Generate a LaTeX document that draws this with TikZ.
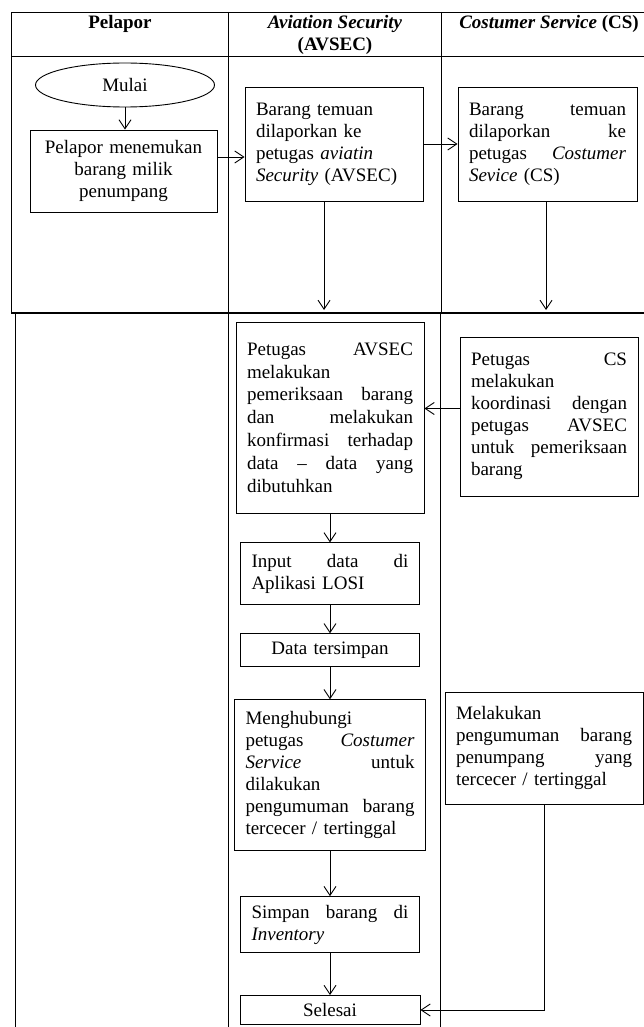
\documentclass[tikz,border=0pt]{standalone}
\usepackage{fontspec}
\setmainfont{Liberation Serif}
\usetikzlibrary{shapes.geometric,arrows.meta,positioning}

\begin{document}
\begin{tikzpicture}[
    x=1pt, y=-1pt,
    every node/.style={font=\fontsize{19}{22}\selectfont},
    box/.style={rectangle, draw, line width=0.9pt, inner xsep=11pt, inner ysep=3pt, align=left},
    startstop/.style={ellipse, draw, line width=0.9pt, minimum width=179pt, minimum height=44pt, inner sep=0pt},
    header/.style={font=\fontsize{19}{22}\selectfont\bfseries, align=center},
    lane/.style={line width=0.9pt},
    arrow/.style={-{Straight Barb[length=9pt,width=12pt]}, line width=0.9pt}
]
\useasboundingbox (0,0) rectangle (644,1027);

% Swimlanes
\draw[lane] (644,12) -- (11,12) -- (11,312) -- (644,312);
\draw[lane] (11,56) -- (644,56);
\draw[lane] (228,12) -- (228,312);
\draw[lane] (441,12) -- (441,312);
\draw[lane] (15,313) -- (15,1027);
\draw[lane] (228,313) -- (228,1027);
\draw[lane] (440,313) -- (440,1027);
\draw[line width=2.2pt] (11,313) -- (644,313);

% Headers
\node[header] (hpelapor) at (120,24) {Pelapor};
\node[header] (havsec) at (335,35) {\textit{Aviation Security}\\(AVSEC)};
\node[header] (hcs) at (549,24) {\textit{Costumer Service} (CS)};

% Pelapor
\node[startstop] (mulai) at (125,85) {Mulai};
\node[box, align=center, text width=165pt, minimum height=82pt] (pelapor) at (123.5,171) {Pelapor menemukan\\barang milik\\penumpang};

% Laporan ke AVSEC dan CS
\node[box, text width=156pt, minimum height=114pt] (avsec1) at (334,144) {Barang temuan\\dilaporkan ke\\petugas \textit{aviatin}\\\textit{Security} (AVSEC)};
\node[box, text width=157pt, minimum height=114pt] (cs1) at (547.5,144) {Barang \hfill temuan\\dilaporkan \hfill ke\\petugas \hfill \textit{Costumer}\\\textit{Sevice} (CS)};

% Pemeriksaan
\node[box, font=\fontsize{19}{22.8}\selectfont, text width=166pt, minimum height=191pt] (avsec2) at (330,417.5) {Petugas \hfill AVSEC\\melakukan\\pemeriksaan \hfill barang\\dan \hfill melakukan\\konfirmasi \hfill terhadap\\data \hfill -- \hfill data \hfill yang\\dibutuhkan};
\node[box, text width=156pt, minimum height=159pt] (cs2) at (549,416.5) {Petugas \hfill CS\\melakukan\\koordinasi \hfill dengan\\petugas \hfill AVSEC\\untuk \hfill pemeriksaan\\barang};

% Alur AVSEC
\node[box, text width=157pt, minimum height=62pt, below=29pt of avsec2] (input) {Input \hfill data \hfill di\\Aplikasi LOSI};
\node[box, align=center, text width=157pt, minimum height=33pt, below=28pt of input] (data) {Data tersimpan};
\node[box, text width=169pt, minimum height=151pt, below=32pt of data] (hubungi) {Menghubungi\\petugas \hfill \textit{Costumer}\\\textit{Service} \hfill untuk\\dilakukan\\pengumuman \hfill barang\\tercecer / tertinggal};
\node[box, text width=157pt, minimum height=56pt, below=45pt of hubungi] (simpan) {Simpan \hfill barang \hfill di\\\textit{Inventory}};
\node[box, align=center, text width=158pt, minimum height=29pt, below=42pt of simpan] (selesai) {Selesai};

% Pengumuman CS
\node[box, text width=176pt, minimum height=112pt] (cs3) at (544,748) {Melakukan\\pengumuman \hfill barang\\penumpang \hfill yang\\tercecer / tertinggal};

% Arrows
\coordinate (avsecout) at (324,310);
\coordinate (csout) at (546,310);
\draw[arrow] (mulai.south) -- (mulai.south |- pelapor.north);
\draw[arrow] ([yshift=14pt]pelapor.east) -- ([yshift=14pt]pelapor.east -| avsec1.west);
\draw[arrow] (avsec1) -- (cs1);
\draw[arrow] (avsec1.south -| avsecout) -- (avsecout);
\draw[arrow] (cs1.south -| csout) -- (csout);
\draw[arrow] ([yshift=8pt]cs2.west) -- ([yshift=8pt]cs2.west -| avsec2.east);
\draw[arrow] (avsec2) -- (input);
\draw[arrow] (input) -- (data);
\draw[arrow] (data) -- (hubungi);
\draw[arrow] (hubungi) -- (simpan);
\draw[arrow] (simpan) -- (selesai);
\draw[arrow] (cs3.south) |- (selesai.east);

\end{tikzpicture}
\end{document}
